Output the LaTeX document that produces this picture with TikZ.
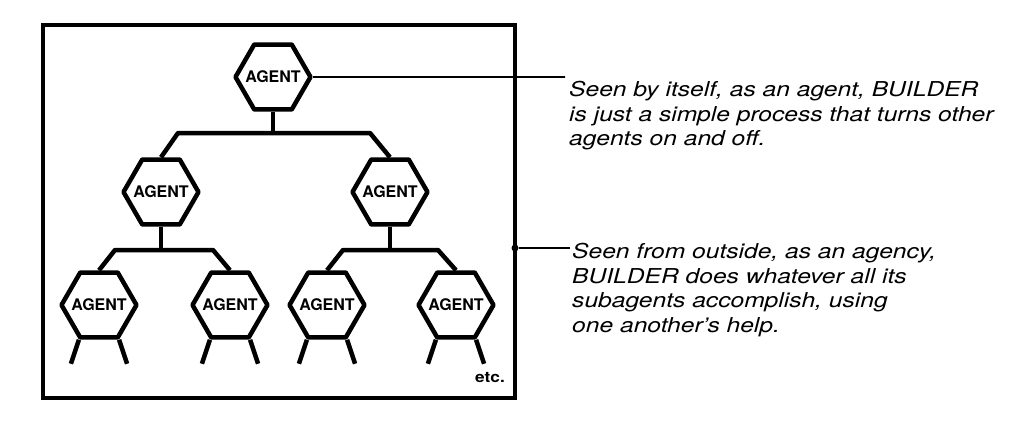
\documentclass[tikz,border=0pt]{standalone}
\usepackage{fontspec}
\setsansfont{TeX Gyre Heros}
\newfontfamily\notefont[FakeStretch=1.2]{TeX Gyre Heros}
\newfontfamily\etcfont[FakeStretch=1.15]{TeX Gyre Heros}
\usetikzlibrary{shapes.geometric}
\begin{document}
\begin{tikzpicture}[x=1pt,y=-1pt,
  agent/.style={regular polygon, regular polygon sides=6, draw, line width=4.5pt,
    minimum size=75pt, inner sep=0pt, line join=round,
    font=\sffamily\bfseries\fontsize{16}{16}\selectfont},
  tree/.style={line width=4.5pt, line join=round},
  lead/.style={line width=1.6pt},
  frame/.style={line width=3.6pt},
  note/.style={anchor=north west, align=left, inner sep=0pt,
    font=\notefont\itshape\fontsize{20.5}{24.5}\selectfont},
  dotnode/.style={circle, fill, inner sep=0pt, minimum size=7pt}]
\useasboundingbox (0,0) rectangle (1024,429);
% frame
\draw[frame] (43,25) rectangle (515,398);
% agents
\newcommand{\agentlabel}{\makebox[0pt]{AGENT}}
\node[agent] (a1) at (273,77) {\agentlabel};
\node[agent] (a2) at (161,192) {\agentlabel};
\node[agent] (a3) at (390,192) {\agentlabel};
\node[agent] (c1) at (99,305) {\agentlabel};
\node[agent] (c2) at (230,305) {\agentlabel};
\node[agent] (c3) at (327,305) {\agentlabel};
\node[agent] (c4) at (456,305) {\agentlabel};
% bar ends
\coordinate (b1l) at (178,133);
\coordinate (b1r) at (370,133);
\coordinate (b2l) at (115,250);
\coordinate (b2r) at (213,250);
\coordinate (b3l) at (343,250);
\coordinate (b3r) at (438,250);
% tree connectors
\draw[tree] (a1.south) -- (a1.south |- b1l);
\draw[tree] (a2.north) -- (b1l) -- (b1r) -- (a3.north);
\draw[tree] (a2.south) -- (a2.south |- b2l);
\draw[tree] (c1.north) -- (b2l) -- (b2r) -- (c2.north);
\draw[tree] (a3.south) -- (a3.south |- b3l);
\draw[tree] (c3.north) -- (b3l) -- (b3r) -- (c4.north);
% legs
\foreach \n in {c1,c2,c3,c4}{
  \draw[tree] (\n.240) -- ++(-8,24);
  \draw[tree] (\n.300) -- ++(8,24);
}
\node[font=\etcfont\bfseries\fontsize{15}{15}\selectfont, inner sep=0pt] (etc) at (490,378) {etc.};
% notes
\node[note] (t1) at (569,81) {Seen by itself, as an agent, BUILDER\\is just a simple process that turns other\\agents on and off.};
\node[note] (t2) at (572,243) {Seen from outside, as an agency,\\BUILDER does whatever all its\\subagents accomplish, using\\one another’s help.};
\coordinate (t1in) at (565,77);
\coordinate (t2in) at (570,248);
\node[dotnode] (dot) at (515,248) {};
\draw[lead] (a1.east) -- (t1in);
\draw[lead] (dot) -- (t2in);
\end{tikzpicture}
\end{document}
